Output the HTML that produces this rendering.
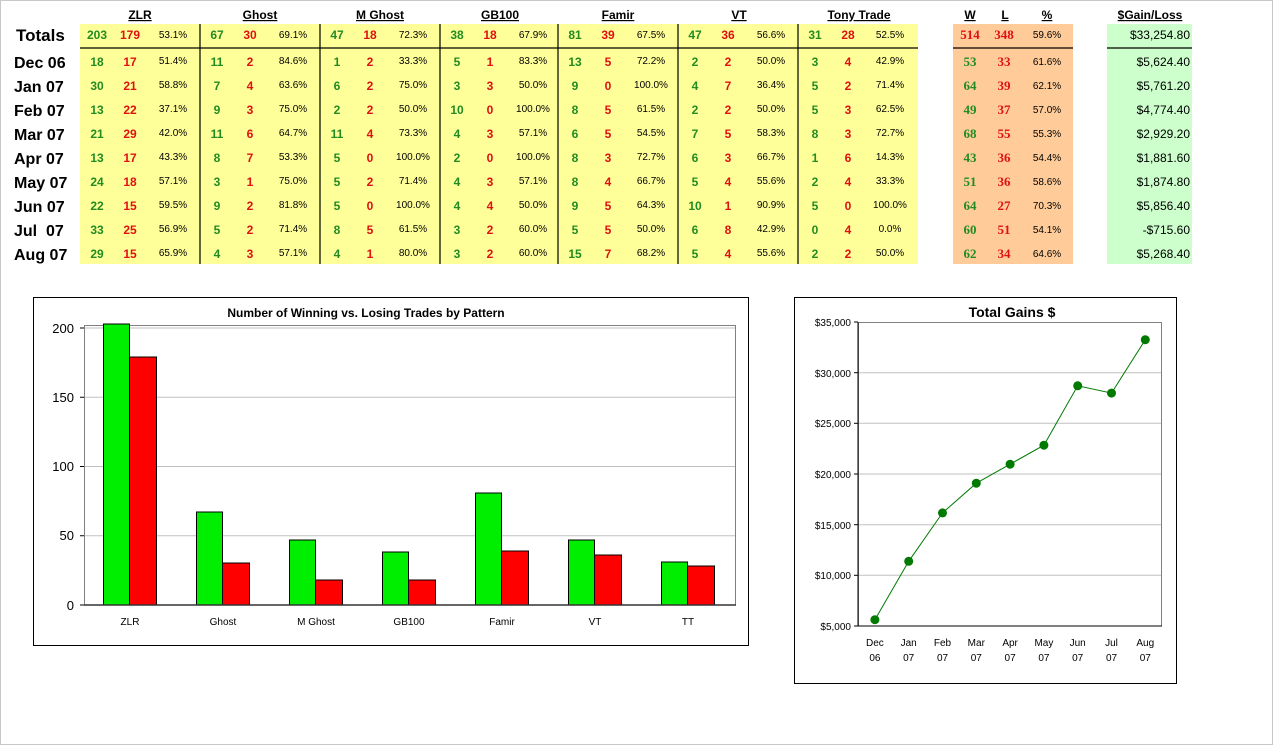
<!DOCTYPE html>
<html><head><meta charset="utf-8"><style>
html,body{margin:0;padding:0;background:#fff}
svg{display:block;font-family:"Liberation Sans",Arial,sans-serif}
.h{font-size:12px;font-weight:bold;text-anchor:middle;text-decoration:underline}
.lab{font-size:16px;font-weight:bold}
.g{fill:#228b22;font-size:12px;font-weight:bold;text-anchor:middle}
.r{fill:#e01010;font-size:12px;font-weight:bold;text-anchor:middle}
.go{fill:#228b22;font-size:13px;font-weight:bold;text-anchor:middle;font-family:"Liberation Serif",serif}
.ro{fill:#e01010;font-size:13px;font-weight:bold;text-anchor:middle;font-family:"Liberation Serif",serif}
.p{font-size:10px;text-anchor:middle}
.m{font-size:12px;text-anchor:end}
.t{font-size:11px}
</style></head><body>
<svg width="1273" height="745" viewBox="0 0 1273 745">
<rect x="0.5" y="0.5" width="1272" height="744" fill="#fff" stroke="#c8c8c8"/>
<rect x="80" y="24" width="838" height="240" fill="#ffff99"/>
<rect x="953" y="24" width="120" height="240" fill="#ffcc99"/>
<rect x="1107" y="24" width="85" height="240" fill="#ccffcc"/>
<g stroke="#000" stroke-width="1.2">
<line x1="80" y1="48" x2="918" y2="48"/><line x1="953" y1="48" x2="1073" y2="48"/><line x1="1107" y1="48" x2="1192" y2="48"/>
<line x1="200" y1="24" x2="200" y2="264"/><line x1="320" y1="24" x2="320" y2="264"/><line x1="440" y1="24" x2="440" y2="264"/>
<line x1="558" y1="24" x2="558" y2="264"/><line x1="678" y1="24" x2="678" y2="264"/><line x1="798" y1="24" x2="798" y2="264"/>
</g>
<text class="h" x="140" y="19">ZLR</text><text class="h" x="260" y="19">Ghost</text><text class="h" x="380" y="19">M Ghost</text>
<text class="h" x="500" y="19">GB100</text><text class="h" x="618" y="19">Famir</text><text class="h" x="739" y="19">VT</text>
<text class="h" x="859" y="19">Tony Trade</text><text class="h" x="970" y="19">W</text><text class="h" x="1005" y="19">L</text>
<text class="h" x="1047" y="19">%</text><text class="h" x="1150" y="19">$Gain/Loss</text>

<text class="lab" x="16" y="41" style="font-size:17px">Totals</text>
<g transform="translate(0,39)">
<text class="g" x="97">203</text><text class="r" x="130">179</text><text class="p" x="173" y="-1">53.1%</text>
<text class="g" x="217">67</text><text class="r" x="250">30</text><text class="p" x="293" y="-1">69.1%</text>
<text class="g" x="337">47</text><text class="r" x="370">18</text><text class="p" x="413" y="-1">72.3%</text>
<text class="g" x="457">38</text><text class="r" x="490">18</text><text class="p" x="533" y="-1">67.9%</text>
<text class="g" x="575">81</text><text class="r" x="608">39</text><text class="p" x="651" y="-1">67.5%</text>
<text class="g" x="695">47</text><text class="r" x="728">36</text><text class="p" x="771" y="-1">56.6%</text>
<text class="g" x="815">31</text><text class="r" x="848">28</text><text class="p" x="890" y="-1">52.5%</text>
<text class="ro" x="970">514</text><text class="ro" x="1004">348</text><text class="p" x="1047" y="-1">59.6%</text>
<text class="m" x="1190">$33,254.80</text>
</g>

<text class="lab" x="14" y="68">Dec 06</text>
<g transform="translate(0,66)">
<text class="g" x="97">18</text><text class="r" x="130">17</text><text class="p" x="173" y="-2">51.4%</text>
<text class="g" x="217">11</text><text class="r" x="250">2</text><text class="p" x="293" y="-2">84.6%</text>
<text class="g" x="337">1</text><text class="r" x="370">2</text><text class="p" x="413" y="-2">33.3%</text>
<text class="g" x="457">5</text><text class="r" x="490">1</text><text class="p" x="533" y="-2">83.3%</text>
<text class="g" x="575">13</text><text class="r" x="608">5</text><text class="p" x="651" y="-2">72.2%</text>
<text class="g" x="695">2</text><text class="r" x="728">2</text><text class="p" x="771" y="-2">50.0%</text>
<text class="g" x="815">3</text><text class="r" x="848">4</text><text class="p" x="890" y="-2">42.9%</text>
<text class="go" x="970">53</text><text class="ro" x="1004">33</text><text class="p" x="1047" y="-1">61.6%</text>
<text class="m" x="1190">$5,624.40</text>
</g>

<text class="lab" x="14" y="92">Jan 07</text>
<g transform="translate(0,90)">
<text class="g" x="97">30</text><text class="r" x="130">21</text><text class="p" x="173" y="-2">58.8%</text>
<text class="g" x="217">7</text><text class="r" x="250">4</text><text class="p" x="293" y="-2">63.6%</text>
<text class="g" x="337">6</text><text class="r" x="370">2</text><text class="p" x="413" y="-2">75.0%</text>
<text class="g" x="457">3</text><text class="r" x="490">3</text><text class="p" x="533" y="-2">50.0%</text>
<text class="g" x="575">9</text><text class="r" x="608">0</text><text class="p" x="651" y="-2">100.0%</text>
<text class="g" x="695">4</text><text class="r" x="728">7</text><text class="p" x="771" y="-2">36.4%</text>
<text class="g" x="815">5</text><text class="r" x="848">2</text><text class="p" x="890" y="-2">71.4%</text>
<text class="go" x="970">64</text><text class="ro" x="1004">39</text><text class="p" x="1047" y="-1">62.1%</text>
<text class="m" x="1190">$5,761.20</text>
</g>

<text class="lab" x="14" y="116">Feb 07</text>
<g transform="translate(0,114)">
<text class="g" x="97">13</text><text class="r" x="130">22</text><text class="p" x="173" y="-2">37.1%</text>
<text class="g" x="217">9</text><text class="r" x="250">3</text><text class="p" x="293" y="-2">75.0%</text>
<text class="g" x="337">2</text><text class="r" x="370">2</text><text class="p" x="413" y="-2">50.0%</text>
<text class="g" x="457">10</text><text class="r" x="490">0</text><text class="p" x="533" y="-2">100.0%</text>
<text class="g" x="575">8</text><text class="r" x="608">5</text><text class="p" x="651" y="-2">61.5%</text>
<text class="g" x="695">2</text><text class="r" x="728">2</text><text class="p" x="771" y="-2">50.0%</text>
<text class="g" x="815">5</text><text class="r" x="848">3</text><text class="p" x="890" y="-2">62.5%</text>
<text class="go" x="970">49</text><text class="ro" x="1004">37</text><text class="p" x="1047" y="-1">57.0%</text>
<text class="m" x="1190">$4,774.40</text>
</g>

<text class="lab" x="14" y="140">Mar 07</text>
<g transform="translate(0,138)">
<text class="g" x="97">21</text><text class="r" x="130">29</text><text class="p" x="173" y="-2">42.0%</text>
<text class="g" x="217">11</text><text class="r" x="250">6</text><text class="p" x="293" y="-2">64.7%</text>
<text class="g" x="337">11</text><text class="r" x="370">4</text><text class="p" x="413" y="-2">73.3%</text>
<text class="g" x="457">4</text><text class="r" x="490">3</text><text class="p" x="533" y="-2">57.1%</text>
<text class="g" x="575">6</text><text class="r" x="608">5</text><text class="p" x="651" y="-2">54.5%</text>
<text class="g" x="695">7</text><text class="r" x="728">5</text><text class="p" x="771" y="-2">58.3%</text>
<text class="g" x="815">8</text><text class="r" x="848">3</text><text class="p" x="890" y="-2">72.7%</text>
<text class="go" x="970">68</text><text class="ro" x="1004">55</text><text class="p" x="1047" y="-1">55.3%</text>
<text class="m" x="1190">$2,929.20</text>
</g>

<text class="lab" x="14" y="164">Apr 07</text>
<g transform="translate(0,162)">
<text class="g" x="97">13</text><text class="r" x="130">17</text><text class="p" x="173" y="-2">43.3%</text>
<text class="g" x="217">8</text><text class="r" x="250">7</text><text class="p" x="293" y="-2">53.3%</text>
<text class="g" x="337">5</text><text class="r" x="370">0</text><text class="p" x="413" y="-2">100.0%</text>
<text class="g" x="457">2</text><text class="r" x="490">0</text><text class="p" x="533" y="-2">100.0%</text>
<text class="g" x="575">8</text><text class="r" x="608">3</text><text class="p" x="651" y="-2">72.7%</text>
<text class="g" x="695">6</text><text class="r" x="728">3</text><text class="p" x="771" y="-2">66.7%</text>
<text class="g" x="815">1</text><text class="r" x="848">6</text><text class="p" x="890" y="-2">14.3%</text>
<text class="go" x="970">43</text><text class="ro" x="1004">36</text><text class="p" x="1047" y="-1">54.4%</text>
<text class="m" x="1190">$1,881.60</text>
</g>

<text class="lab" x="14" y="188">May 07</text>
<g transform="translate(0,186)">
<text class="g" x="97">24</text><text class="r" x="130">18</text><text class="p" x="173" y="-2">57.1%</text>
<text class="g" x="217">3</text><text class="r" x="250">1</text><text class="p" x="293" y="-2">75.0%</text>
<text class="g" x="337">5</text><text class="r" x="370">2</text><text class="p" x="413" y="-2">71.4%</text>
<text class="g" x="457">4</text><text class="r" x="490">3</text><text class="p" x="533" y="-2">57.1%</text>
<text class="g" x="575">8</text><text class="r" x="608">4</text><text class="p" x="651" y="-2">66.7%</text>
<text class="g" x="695">5</text><text class="r" x="728">4</text><text class="p" x="771" y="-2">55.6%</text>
<text class="g" x="815">2</text><text class="r" x="848">4</text><text class="p" x="890" y="-2">33.3%</text>
<text class="go" x="970">51</text><text class="ro" x="1004">36</text><text class="p" x="1047" y="-1">58.6%</text>
<text class="m" x="1190">$1,874.80</text>
</g>

<text class="lab" x="14" y="212">Jun 07</text>
<g transform="translate(0,210)">
<text class="g" x="97">22</text><text class="r" x="130">15</text><text class="p" x="173" y="-2">59.5%</text>
<text class="g" x="217">9</text><text class="r" x="250">2</text><text class="p" x="293" y="-2">81.8%</text>
<text class="g" x="337">5</text><text class="r" x="370">0</text><text class="p" x="413" y="-2">100.0%</text>
<text class="g" x="457">4</text><text class="r" x="490">4</text><text class="p" x="533" y="-2">50.0%</text>
<text class="g" x="575">9</text><text class="r" x="608">5</text><text class="p" x="651" y="-2">64.3%</text>
<text class="g" x="695">10</text><text class="r" x="728">1</text><text class="p" x="771" y="-2">90.9%</text>
<text class="g" x="815">5</text><text class="r" x="848">0</text><text class="p" x="890" y="-2">100.0%</text>
<text class="go" x="970">64</text><text class="ro" x="1004">27</text><text class="p" x="1047" y="-1">70.3%</text>
<text class="m" x="1190">$5,856.40</text>
</g>

<text class="lab" x="14" y="236">Jul &#160;07</text>
<g transform="translate(0,234)">
<text class="g" x="97">33</text><text class="r" x="130">25</text><text class="p" x="173" y="-2">56.9%</text>
<text class="g" x="217">5</text><text class="r" x="250">2</text><text class="p" x="293" y="-2">71.4%</text>
<text class="g" x="337">8</text><text class="r" x="370">5</text><text class="p" x="413" y="-2">61.5%</text>
<text class="g" x="457">3</text><text class="r" x="490">2</text><text class="p" x="533" y="-2">60.0%</text>
<text class="g" x="575">5</text><text class="r" x="608">5</text><text class="p" x="651" y="-2">50.0%</text>
<text class="g" x="695">6</text><text class="r" x="728">8</text><text class="p" x="771" y="-2">42.9%</text>
<text class="g" x="815">0</text><text class="r" x="848">4</text><text class="p" x="890" y="-2">0.0%</text>
<text class="go" x="970">60</text><text class="ro" x="1004">51</text><text class="p" x="1047" y="-1">54.1%</text>
<text class="m" x="1190">-$715.60</text>
</g>

<text class="lab" x="14" y="260">Aug 07</text>
<g transform="translate(0,258)">
<text class="g" x="97">29</text><text class="r" x="130">15</text><text class="p" x="173" y="-2">65.9%</text>
<text class="g" x="217">4</text><text class="r" x="250">3</text><text class="p" x="293" y="-2">57.1%</text>
<text class="g" x="337">4</text><text class="r" x="370">1</text><text class="p" x="413" y="-2">80.0%</text>
<text class="g" x="457">3</text><text class="r" x="490">2</text><text class="p" x="533" y="-2">60.0%</text>
<text class="g" x="575">15</text><text class="r" x="608">7</text><text class="p" x="651" y="-2">68.2%</text>
<text class="g" x="695">5</text><text class="r" x="728">4</text><text class="p" x="771" y="-2">55.6%</text>
<text class="g" x="815">2</text><text class="r" x="848">2</text><text class="p" x="890" y="-2">50.0%</text>
<text class="go" x="970">62</text><text class="ro" x="1004">34</text><text class="p" x="1047" y="-1">64.6%</text>
<text class="m" x="1190">$5,268.40</text>
</g>

<!-- Bar chart -->
<rect x="33.5" y="297.5" width="715" height="348" fill="#fff" stroke="#000"/>
<text x="366" y="317" style="font-size:12px;font-weight:bold" text-anchor="middle">Number of Winning vs. Losing Trades by Pattern</text>
<rect x="84.5" y="325.5" width="651" height="279.5" fill="#fff" stroke="#808080"/>
<g stroke="#c0c0c0"><line x1="85" y1="328" x2="735" y2="328"/><line x1="85" y1="397.25" x2="735" y2="397.25"/><line x1="85" y1="466.5" x2="735" y2="466.5"/><line x1="85" y1="535.75" x2="735" y2="535.75"/></g>
<g stroke="#000" stroke-width="1">
<rect x="103.5" y="324" width="26" height="281" fill="#00ee00"/><rect x="129.5" y="357" width="27" height="248" fill="#ff0000"/>
<rect x="196.5" y="512" width="26" height="93" fill="#00ee00"/><rect x="222.5" y="563" width="27" height="42" fill="#ff0000"/>
<rect x="289.5" y="540" width="26" height="65" fill="#00ee00"/><rect x="315.5" y="580" width="27" height="25" fill="#ff0000"/>
<rect x="382.5" y="552" width="26" height="53" fill="#00ee00"/><rect x="408.5" y="580" width="27" height="25" fill="#ff0000"/>
<rect x="475.5" y="493" width="26" height="112" fill="#00ee00"/><rect x="501.5" y="551" width="27" height="54" fill="#ff0000"/>
<rect x="568.5" y="540" width="26" height="65" fill="#00ee00"/><rect x="594.5" y="555" width="27" height="50" fill="#ff0000"/>
<rect x="661.5" y="562" width="26" height="43" fill="#00ee00"/><rect x="687.5" y="566" width="27" height="39" fill="#ff0000"/>
</g>
<line x1="84" y1="605" x2="736" y2="605" stroke="#333" stroke-width="1.5"/>
<g stroke="#000"><line x1="80" y1="328" x2="84" y2="328"/><line x1="80" y1="397.25" x2="84" y2="397.25"/><line x1="80" y1="466.5" x2="84" y2="466.5"/><line x1="80" y1="535.75" x2="84" y2="535.75"/><line x1="80" y1="605" x2="84" y2="605"/></g>
<g style="font-size:13px" text-anchor="end"><text x="74" y="333">200</text><text x="74" y="402">150</text><text x="74" y="471">100</text><text x="74" y="540">50</text><text x="74" y="610">0</text></g>
<g class="t" text-anchor="middle" style="font-size:10px"><text x="130" y="625">ZLR</text><text x="223" y="625">Ghost</text><text x="316" y="625">M Ghost</text><text x="409" y="625">GB100</text><text x="502" y="625">Famir</text><text x="595" y="625">VT</text><text x="688" y="625">TT</text></g>

<!-- Line chart -->
<rect x="794.5" y="297.5" width="382" height="386" fill="#fff" stroke="#000"/>
<text x="1012" y="317" style="font-size:14px;font-weight:bold" text-anchor="middle">Total Gains $</text>
<g stroke="#c0c0c0"><line x1="858" y1="372.7" x2="1162" y2="372.7"/><line x1="858" y1="423.3" x2="1162" y2="423.3"/><line x1="858" y1="474" x2="1162" y2="474"/><line x1="858" y1="524.7" x2="1162" y2="524.7"/><line x1="858" y1="575.3" x2="1162" y2="575.3"/></g>
<rect x="858.5" y="322.5" width="303" height="303.5" fill="none" stroke="#808080"/>
<line x1="858" y1="626" x2="1162" y2="626" stroke="#000"/>
<line x1="858" y1="322" x2="858" y2="626" stroke="#000"/>
<g stroke="#000"><line x1="854" y1="322" x2="858" y2="322"/><line x1="854" y1="372.7" x2="858" y2="372.7"/><line x1="854" y1="423.3" x2="858" y2="423.3"/><line x1="854" y1="474" x2="858" y2="474"/><line x1="854" y1="524.7" x2="858" y2="524.7"/><line x1="854" y1="575.3" x2="858" y2="575.3"/><line x1="854" y1="626" x2="858" y2="626"/></g>
<g style="font-size:10px" text-anchor="end"><text x="851" y="326">$35,000</text><text x="851" y="377">$30,000</text><text x="851" y="427">$25,000</text><text x="851" y="478">$20,000</text><text x="851" y="529">$15,000</text><text x="851" y="579">$10,000</text><text x="851" y="630">$5,000</text></g>
<polyline fill="none" stroke="#007a00" stroke-width="1" points="874.9,619.7 908.7,561.3 942.5,512.9 976.3,483.2 1010.1,464.2 1043.9,445.2 1077.7,385.8 1111.5,393.1 1145.3,339.7"/>
<g fill="#007a00"><circle cx="874.9" cy="619.7" r="4.5"/><circle cx="908.7" cy="561.3" r="4.5"/><circle cx="942.5" cy="512.9" r="4.5"/><circle cx="976.3" cy="483.2" r="4.5"/><circle cx="1010.1" cy="464.2" r="4.5"/><circle cx="1043.9" cy="445.2" r="4.5"/><circle cx="1077.7" cy="385.8" r="4.5"/><circle cx="1111.5" cy="393.1" r="4.5"/><circle cx="1145.3" cy="339.7" r="4.5"/></g>
<g style="font-size:10px" text-anchor="middle">
<text x="874.9" y="646">Dec</text><text x="874.9" y="661">06</text>
<text x="908.7" y="646">Jan</text><text x="908.7" y="661">07</text>
<text x="942.5" y="646">Feb</text><text x="942.5" y="661">07</text>
<text x="976.3" y="646">Mar</text><text x="976.3" y="661">07</text>
<text x="1010.1" y="646">Apr</text><text x="1010.1" y="661">07</text>
<text x="1043.9" y="646">May</text><text x="1043.9" y="661">07</text>
<text x="1077.7" y="646">Jun</text><text x="1077.7" y="661">07</text>
<text x="1111.5" y="646">Jul</text><text x="1111.5" y="661">07</text>
<text x="1145.3" y="646">Aug</text><text x="1145.3" y="661">07</text>
</g>
</svg>
</body></html>
